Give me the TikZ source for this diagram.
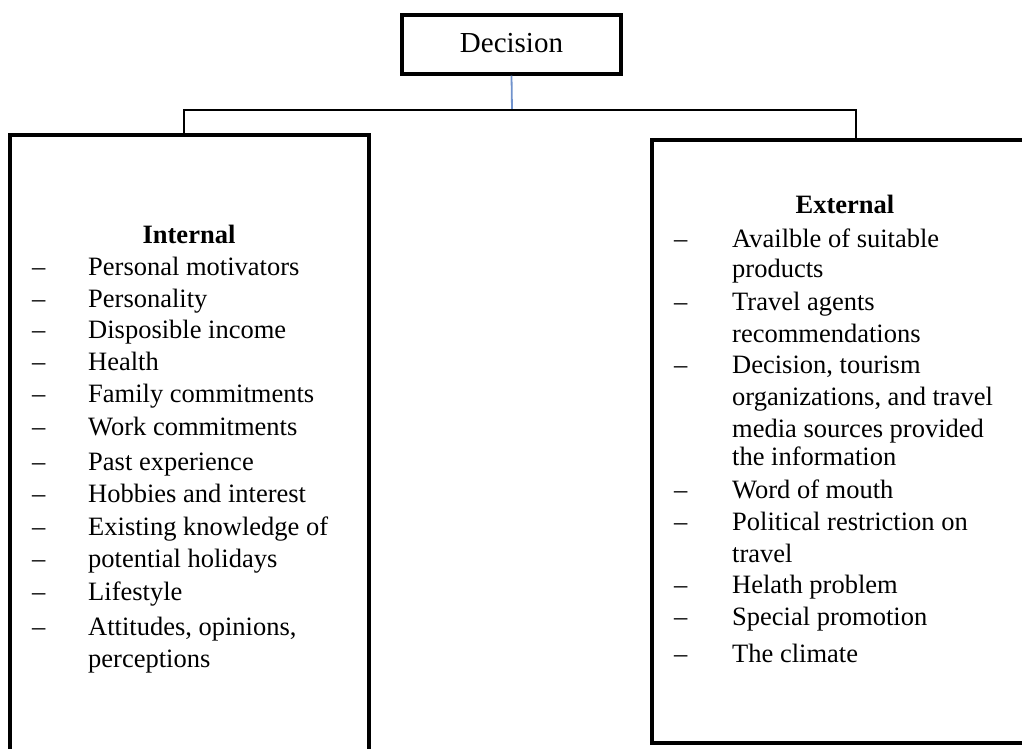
\documentclass[tikz,border=0pt]{standalone}
\usepackage{fontspec}
\setmainfont{Liberation Serif}
\begin{document}
\begin{tikzpicture}[x=1pt,y=-1pt,
  box/.style={draw=black,line width=3.2pt,inner sep=0pt},
  txt/.style={inner sep=0pt,anchor=base west,font=\fontsize{26.5}{30}\selectfont},
  dashmark/.style={inner sep=0pt,anchor=base west,font=\fontsize{26.5}{30}\selectfont},
  head/.style={inner sep=0pt,anchor=base,font=\fontsize{26.5}{30}\selectfont\bfseries},
  conn/.style={draw=black,line width=1.8pt},
  blueconn/.style={draw={rgb,255:red,112;green,146;blue,204},line width=1.8pt}]
\useasboundingbox (0,0) rectangle (1022,749);
\clip (0,0) rectangle (1022,749);
\fill[white] (0,0) rectangle (1022,749);
% decision box
\node[box,minimum width=219pt,minimum height=59pt] (dec) at (511.5,44.5) {};
\node[inner sep=0pt,anchor=base,font=\fontsize{29}{32}\selectfont] (dect) at (511.5,53) {Decision};
% side boxes
\node[box,minimum width=359pt,minimum height=640pt] (int) at (189.5,455) {};
\node[box,minimum width=390pt,minimum height=603pt] (ext) at (847,441.5) {};
% connectors
\coordinate (j) at (512,110);
\coordinate (lt) at (184,135);
\coordinate (rt) at (856,140);
\draw[blueconn] (dec.south) -- (j);
\draw[conn] (lt) |- (j) -| (rt);
% internal list
\node[head] (ih) at (189,243) {Internal};
\foreach \n/\y/\t in {i1/275/Personal motivators, i2/307/Personality, i3/338/Disposible income, i4/370/Health, i5/402/Family commitments, i6/435/Work commitments, i7/470/Past experience, i8/502/Hobbies and interest, i9/535/Existing knowledge of, i10/567/potential holidays, i11/600/Lifestyle, i12/635/{Attitudes, opinions,}}{
  \node[dashmark] (d\n) at (32,\y) {–};
  \node[txt] (\n) at (88,\y) {\t};
}
\node[txt] (i13) at (88,667) {perceptions};
% external list
\node[head] (eh) at (845,213) {External};
\foreach \n/\y/\t in {e1/247/Availble of suitable, e3/310/Travel agents, e5/373/{Decision, tourism}, e9/498/Word of mouth, e10/530/Political restriction on, e12/593/Helath problem, e13/625/Special promotion, e14/662/The climate}{
  \node[dashmark] (d\n) at (674,\y) {–};
  \node[txt] (\n) at (732,\y) {\t};
}
\node[txt] (e2) at (732,277) {products};
\node[txt] (e4) at (732,342) {recommendations};
\node[txt] (e6) at (732,405) {organizations, and travel};
\node[txt] (e7) at (732,437) {media sources provided};
\node[txt] (e8) at (732,465) {the information};
\node[txt] (e11) at (732,562) {travel};
\end{tikzpicture}
\end{document}
